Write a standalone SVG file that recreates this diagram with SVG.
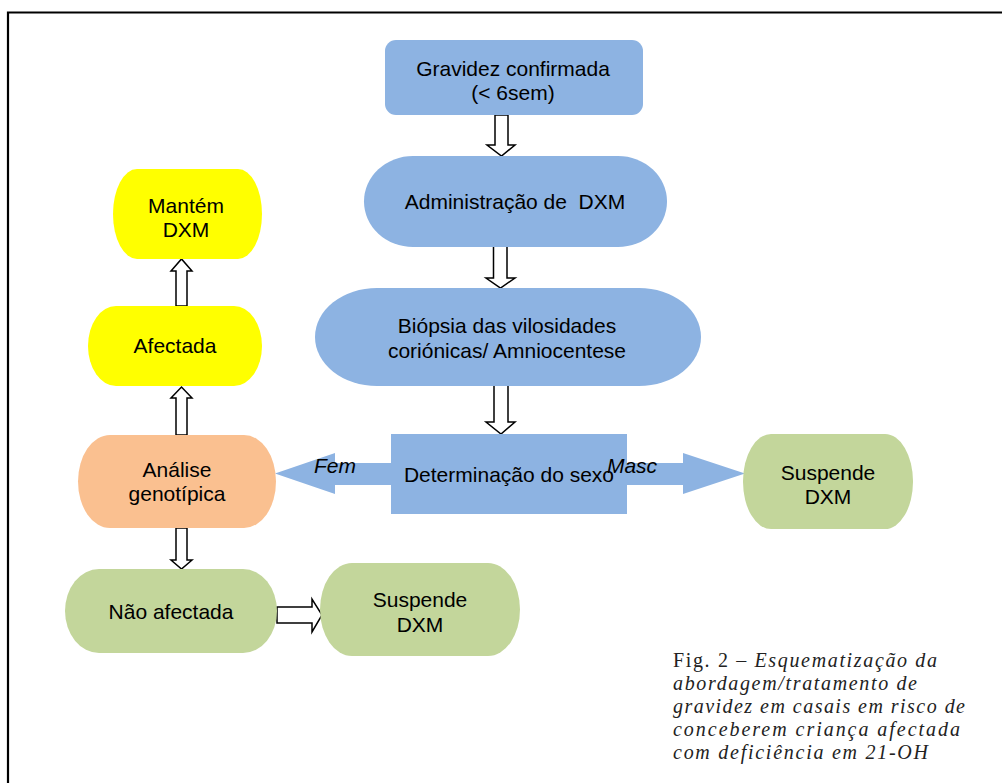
<svg xmlns="http://www.w3.org/2000/svg" width="1002" height="783" viewBox="0 0 1002 783">
<style>
.t{font-family:"Liberation Sans",Arial,sans-serif;font-size:21px;fill:#000;text-anchor:middle}
.it{font-style:italic}
.blue{fill:#8DB3E2}
.yellow{fill:#FFFF00}
.orange{fill:#FAC090}
.green{fill:#C3D69B}
.hollow{fill:#fff;stroke:#000;stroke-width:1.5;stroke-linejoin:miter}
.cap{font-family:"Liberation Serif","Times New Roman",serif;font-size:20px;fill:#222}
</style>
<rect x="0" y="0" width="1002" height="783" fill="#fff"/>
<path d="M8 783 V12.5 H1002" fill="none" stroke="#000" stroke-width="2.2"/>

<g id="connectors">
<path class="blue" d="M275 473.5 L335 453 L335 463 L683 463 L683 453 L745 473.5 L683 494 L683 485 L335 485 L335 494 Z"/>
<path class="hollow" d="M495 115 H508 V145 H515 L501.5 156 L487 145 H495 Z"/>
<path class="hollow" d="M493.5 246 H507 V278 H515 L500.5 288 L486 278 H493.5 Z"/>
<path class="hollow" d="M494 385 H508 V422 H515 L501 434 L486 422 H494 Z"/>
<path class="hollow" d="M176 306 H187 V271 H192 L181.5 259 L171 271 H176 Z"/>
<path class="hollow" d="M176 435 H187 V398 H192 L181.5 387 L171 398 H176 Z"/>
<path class="hollow" d="M176 528 H187 V560 H192 L181.5 569 L171 560 H176 Z"/>
<path class="hollow" d="M277 607 H312 V599 L322 615 L312 632 V623 H277 Z"/>
</g>

<g id="n-gravidez">
<rect class="blue" x="385" y="40" width="258" height="75" rx="11" ry="11"/>
<text class="t" x="513" y="76">Gravidez confirmada</text>
<text class="t" x="513" y="100">(&lt; 6sem)</text>
</g>
<g id="n-administracao">
<rect class="blue" x="364" y="156" width="303" height="91" rx="49" ry="45.5"/>
<text class="t" x="515" y="209" xml:space="preserve">Administração de  DXM</text>
</g>
<g id="n-biopsia">
<rect class="blue" x="315" y="288" width="386" height="98" rx="62" ry="49"/>
<text class="t" x="507" y="333">Biópsia das vilosidades</text>
<text class="t" x="507" y="358">coriónicas/ Amniocentese</text>
</g>
<g id="n-determinacao">
<rect class="blue" x="391" y="434" width="236" height="80"/>
<text class="t" x="509" y="482">Determinação do sexo</text>
</g>
<text class="t it" x="335" y="473">Fem</text>
<text class="t it" x="632" y="473">Masc</text>
<g id="n-suspende-masc">
<rect class="green" x="743" y="434" width="170" height="95" rx="28" ry="47.5"/>
<text class="t" x="828" y="480">Suspende</text>
<text class="t" x="828" y="504">DXM</text>
</g>
<g id="n-mantem">
<rect class="yellow" x="113" y="169" width="149" height="90" rx="24" ry="45"/>
<text class="t" x="186" y="213">Mantém</text>
<text class="t" x="186" y="237">DXM</text>
</g>
<g id="n-afectada">
<rect class="yellow" x="88" y="306" width="174" height="80" rx="28" ry="40"/>
<text class="t" x="175" y="353">Afectada</text>
</g>
<g id="n-analise">
<rect class="orange" x="78" y="435" width="198" height="93" rx="32" ry="46.5"/>
<text class="t" x="177" y="477">Análise</text>
<text class="t" x="177" y="501">genotípica</text>
</g>
<g id="n-nao-afectada">
<rect class="green" x="65" y="569" width="212" height="84" rx="34" ry="42"/>
<text class="t" x="171" y="619">Não afectada</text>
</g>
<g id="n-suspende-fem">
<rect class="green" x="320" y="563" width="200" height="93" rx="32" ry="46.5"/>
<text class="t" x="420" y="607">Suspende</text>
<text class="t" x="420" y="632">DXM</text>
</g>

<g id="caption">
<text class="cap" x="673" y="667" textLength="264" lengthAdjust="spacing">Fig. 2 – <tspan font-style="italic">Esquematização da</tspan></text>
<text class="cap" x="673" y="690" font-style="italic" textLength="244" lengthAdjust="spacing">abordagem/tratamento de</text>
<text class="cap" x="673" y="713" font-style="italic" textLength="292" lengthAdjust="spacing">gravidez em casais em risco de</text>
<text class="cap" x="673" y="736" font-style="italic" textLength="287" lengthAdjust="spacing">conceberem criança afectada</text>
<text class="cap" x="673" y="759" font-style="italic" textLength="255" lengthAdjust="spacing">com deficiência em 21-OH</text>
</g>
</svg>
